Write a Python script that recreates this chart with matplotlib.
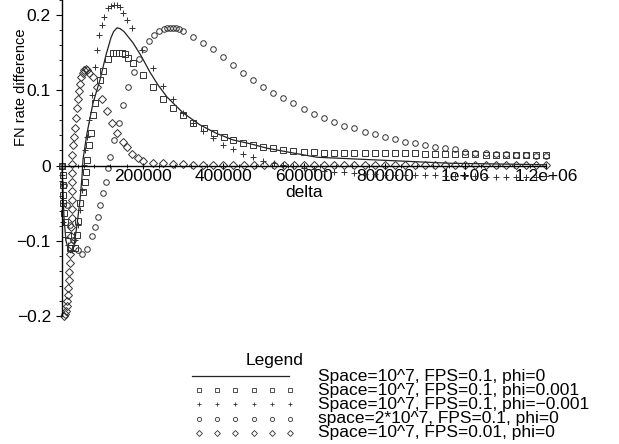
import numpy as np
import matplotlib.pyplot as plt
from matplotlib.ticker import FixedLocator, MultipleLocator

plt.rcParams['font.family'] = ['Liberation Sans', 'DejaVu Sans']

# Space=10^7, FPS=0.1, phi=0 (solid curve)
line_delta = [0, 2500, 5000, 9900, 17000, 22300, 29800, 37200, 44600, 49600, 52100,
              62000, 76900, 94200, 109100, 121500, 128000, 136400, 144000, 153800,
              176100, 195900, 218200, 238100, 260400, 300100, 342200, 381900, 424000,
              466200, 508400, 590200, 632400, 714200, 838200, 962200, 1086200, 1200000]
line_val = [0.0, -0.035, -0.07, -0.1, -0.114, -0.116, -0.106, -0.079, -0.046, -0.015, 0.008,
            0.043, 0.083, 0.114, 0.147, 0.170, 0.178, 0.183, 0.182, 0.178,
            0.163, 0.146, 0.124, 0.107, 0.091, 0.070, 0.054, 0.043, 0.034,
            0.029, 0.023, 0.015, 0.011, 0.009, 0.006, 0.003, 0.002, 0.001]

# Space=10^7, FPS=0.1, phi=0.001 (squares)
sq_delta = [0, 2500, 2500, 2500, 2500, 5000, 7400, 14900, 19800, 32200, 37200, 39700, 44600,
            52100, 57000, 59500, 62000, 67000, 71900, 76900, 81800, 94200, 101700, 114100,
            126500, 134000, 141400, 148800, 156200, 163700, 176100, 200900, 225700, 250500,
            275300, 300100, 324900, 352200, 377000, 401800, 424000, 448900, 473700, 498500,
            523300, 548100, 572900, 600000, 625000, 650000, 675000, 700000, 725000, 750000,
            775000, 800000, 825000, 850000, 875000, 900000, 925000, 950000, 975000, 1000000,
            1025000, 1050000, 1075000, 1100000, 1125000, 1150000, 1175000, 1200000]
sq_val = [0.0, -0.013, -0.026, -0.039, -0.050, -0.063, -0.075, -0.092, -0.110, -0.110, -0.092,
          -0.074, -0.050, -0.035, -0.022, -0.009, 0.007, 0.027, 0.043, 0.067, 0.083, 0.114,
          0.126, 0.142, 0.150, 0.150, 0.150, 0.150, 0.148, 0.143, 0.136, 0.120, 0.104, 0.088,
          0.076, 0.067, 0.057, 0.050, 0.043, 0.038, 0.034, 0.030, 0.027, 0.025, 0.023, 0.021,
          0.019, 0.018, 0.018, 0.017, 0.017, 0.017, 0.017, 0.016, 0.016, 0.016, 0.016, 0.016,
          0.016, 0.015, 0.015, 0.015, 0.015, 0.015, 0.015, 0.014, 0.014, 0.014, 0.014, 0.014,
          0.014, 0.014]

# Space=10^7, FPS=0.1, phi=-0.001 (crosses)
cr_delta = [0, 1000, 1500, 2000, 3000, 7400, 15000, 25000, 32200, 39700, 44600, 49600, 54600,
            57000, 62000, 67000, 74400, 81800, 86800, 91800, 99200, 104200, 114100, 121500,
            129000, 136400, 143800, 151300, 161200, 173600, 198400, 225700, 250500, 275300,
            300100, 324900, 349900, 374600, 399400, 424000, 448900, 473700, 498500, 525000,
            548100, 572900, 600000, 625000, 650000, 675000, 700000, 725000, 750000, 775000,
            800000, 825000, 850000, 875000, 900000, 925000, 950000, 975000, 1000000, 1025000,
            1050000, 1075000, 1100000, 1125000, 1150000, 1175000, 1200000]
cr_val = [0.0, -0.013, -0.025, -0.050, -0.075, -0.095, -0.106, -0.112, -0.099, -0.079, -0.059,
          -0.033, 0.001, 0.021, 0.038, 0.061, 0.094, 0.131, 0.154, 0.174, 0.187, 0.197, 0.209,
          0.212, 0.213, 0.213, 0.211, 0.203, 0.193, 0.183, 0.154, 0.130, 0.106, 0.088, 0.070,
          0.057, 0.046, 0.037, 0.027, 0.022, 0.015, 0.011, 0.006, 0.003, 0.001, -0.001, -0.003,
          -0.005, -0.007, -0.009, -0.009, -0.010, -0.011, -0.011, -0.012, -0.012, -0.013,
          -0.013, -0.013, -0.013, -0.014, -0.014, -0.014, -0.014, -0.015, -0.015, -0.015,
          -0.015, -0.015, -0.015, -0.014]

# space=2*10^7, FPS=0.1, phi=0 (circles)
ci_delta = [0, 5000, 12400, 19800, 27300, 39700, 49600, 62000, 74400, 81800, 89300, 94200,
            101700, 109100, 114100, 119000, 129000, 141400, 151300, 163700, 178600, 191000,
            203400, 215900, 228300, 240700, 253200, 260000, 267800, 275300, 282700, 290200,
            300100, 324900, 349900, 374600, 399400, 424000, 448900, 473700, 498500, 523300,
            548100, 572900, 600000, 625000, 650000, 675000, 700000, 725000, 750000, 775000,
            800000, 825000, 850000, 875000, 900000, 925000, 950000, 975000, 1000000, 1025000,
            1050000, 1075000, 1100000, 1125000, 1150000, 1175000, 1200000]
ci_val = [0.0, -0.026, -0.053, -0.079, -0.099, -0.112, -0.118, -0.111, -0.094, -0.082, -0.068,
          -0.053, -0.037, -0.022, -0.003, 0.011, 0.034, 0.057, 0.080, 0.104, 0.124, 0.142,
          0.155, 0.166, 0.174, 0.179, 0.182, 0.183, 0.183, 0.183, 0.183, 0.182, 0.179, 0.171,
          0.163, 0.155, 0.144, 0.134, 0.123, 0.114, 0.104, 0.096, 0.090, 0.083, 0.075, 0.068,
          0.063, 0.058, 0.053, 0.050, 0.045, 0.042, 0.038, 0.035, 0.031, 0.030, 0.027, 0.025,
          0.023, 0.022, 0.018, 0.017, 0.016, 0.015, 0.015, 0.014, 0.014, 0.013, 0.013]

# Space=10^7, FPS=0.01, phi=0 (diamonds)
di_delta = [5000, 7500, 10000, 12000, 13500, 14500, 15500, 16500, 18000, 19500, 21000, 22000,
            23000, 23500, 24000, 24000, 24500, 24500, 24500, 24000, 24000, 25000, 26500,
            29000, 32000, 34500, 37000, 39500, 42000, 45000, 48000, 51000, 55000, 59000, 63000,
            67000, 77000, 87000, 99000, 112000, 124000, 136000, 151000, 161000, 174000, 188000,
            200000, 225000, 250000, 275000, 300000, 325000, 350000, 375000, 400000, 425000,
            450000, 475000, 500000, 525000, 550000, 575000, 600000, 625000, 650000, 675000,
            700000, 725000, 750000, 775000, 800000, 825000, 850000, 875000, 900000, 925000,
            950000, 975000, 1000000, 1025000, 1050000, 1075000, 1100000, 1125000, 1150000,
            1175000, 1200000]
di_val = [-0.200, -0.197, -0.193, -0.187, -0.180, -0.172, -0.163, -0.152, -0.141, -0.130,
          -0.118, -0.106, -0.094, -0.082, -0.070, -0.058, -0.046, -0.034, -0.022, -0.010,
          0.002, 0.014, 0.027, 0.038, 0.050, 0.063, 0.076, 0.088, 0.099, 0.109, 0.117, 0.123,
          0.127, 0.128, 0.127, 0.123, 0.117, 0.105, 0.089, 0.073, 0.056, 0.043, 0.031, 0.024,
          0.015, 0.010, 0.006, 0.004, 0.003, 0.002, 0.0015, 0.001, 0.001, 0.001, 0.001, 0.001,
          0.001, 0.001, 0.001, 0.001, 0.0005, 0.0005, 0.0005, 0.0005, 0.0005, 0.0005, 0.0005,
          0.0005, 0.0005, 0.0005, 0.0005, 0.0005, 0.0005, 0.0005, 0.0005, 0.0005, 0.0005,
          0.0005, 0.0005, 0.0005, 0.0005, 0.0005, 0.0005, 0.0005, 0.0005, 0.0005, 0.0005]
di_delta = di_delta[:len(di_val)]

xticks = [200000, 400000, 600000, 800000, 1000000, 1200000]
xtick_labels = ['200000', '400000', '600000', '800000', '1e+06', '1.2e+06']
yticks = [-0.2, -0.1, 0, 0.1, 0.2]
ytick_labels = ['\u22120.2', '\u22120.1', '0', '0.1', '0.2']

legend_labels = ['Space=10^7, FPS=0.1, phi=0',
                 'Space=10^7, FPS=0.1, phi=0.001',
                 'Space=10^7, FPS=0.1, phi=\u22120.001',
                 'space=2*10^7, FPS=0.1, phi=0',
                 'Space=10^7, FPS=0.01, phi=0']

W, H = 619, 444
fig = plt.figure(figsize=(W / 100, H / 100), dpi=100)
ax = fig.add_axes([62 / W, (H - 316) / H, (546 - 62) / W, 316 / H])
ax.set_xlim(0, 1200000)
ax.set_ylim(-0.2, 0.22)

ink = '#333333'
mk = dict(linestyle='none', mfc='none', mec=ink, mew=0.7, clip_on=False)
ax.plot(line_delta, line_val, color='#222222', lw=0.9, clip_on=False)
ax.plot(sq_delta, sq_val, marker='s', ms=4.2, **mk)
ax.plot(cr_delta, cr_val, marker='+', ms=4.5, **mk)
ax.plot(ci_delta, ci_val, marker='o', ms=4.0, **mk)
ax.plot(di_delta, di_val, marker='D', ms=3.8, **mk)

for s in ['top', 'right']:
    ax.spines[s].set_visible(False)
ax.spines['left'].set_position(('data', 0))
ax.spines['bottom'].set_position(('data', 0))
ax.spines['left'].set_linewidth(1.0)
ax.spines['bottom'].set_linewidth(1.0)
ax.set_facecolor('none')

ax.xaxis.set_major_locator(FixedLocator(xticks))
ax.set_xticklabels(xtick_labels)
ax.xaxis.set_minor_locator(MultipleLocator(40000))
ax.yaxis.set_major_locator(FixedLocator(yticks))
ax.set_yticklabels(ytick_labels)
ax.yaxis.set_minor_locator(MultipleLocator(0.02))
ax.tick_params(axis='x', which='major', direction='inout', length=5, pad=0, labelsize=12.5)
ax.tick_params(axis='x', which='minor', direction='inout', length=3)
ax.tick_params(axis='y', which='major', direction='out', length=4, pad=4, labelsize=12.5)
ax.tick_params(axis='y', which='minor', direction='out', length=2.5)

ax.text(0.5, -0.036, 'delta', transform=ax.get_yaxis_transform(),
        ha='center', va='center', fontsize=12.5)
ax.text(-0.085, 0.104, 'FN rate difference', transform=ax.get_yaxis_transform(),
        ha='center', va='center', rotation=90, fontsize=10.5)

# legend drawn in figure pixels
lax = fig.add_axes([0, 0, 1, 1])
lax.set_xlim(0, W)
lax.set_ylim(H, 0)
lax.axis('off')
lax.text(275, 360, 'Legend', ha='center', va='center', fontsize=12.5)
samples = np.linspace(199, 290, 6)
styles = [None, 's', '+', 'o', 'D']
sizes = [0, 3.2, 3.5, 3.0, 3.0]
for i, (lab, m) in enumerate(zip(legend_labels, styles)):
    y = 376 + 14.2 * i
    if m is None:
        lax.plot([192, 289], [y, y], color='#222222', lw=0.9)
    else:
        lax.plot(samples, [y] * 6, marker=m, ms=sizes[i], linestyle='none',
                 mfc='none', mec=ink, mew=0.6)
    lax.text(318, y, lab, ha='left', va='center', fontsize=12.5)

fig.savefig('out.png', dpi=100)
